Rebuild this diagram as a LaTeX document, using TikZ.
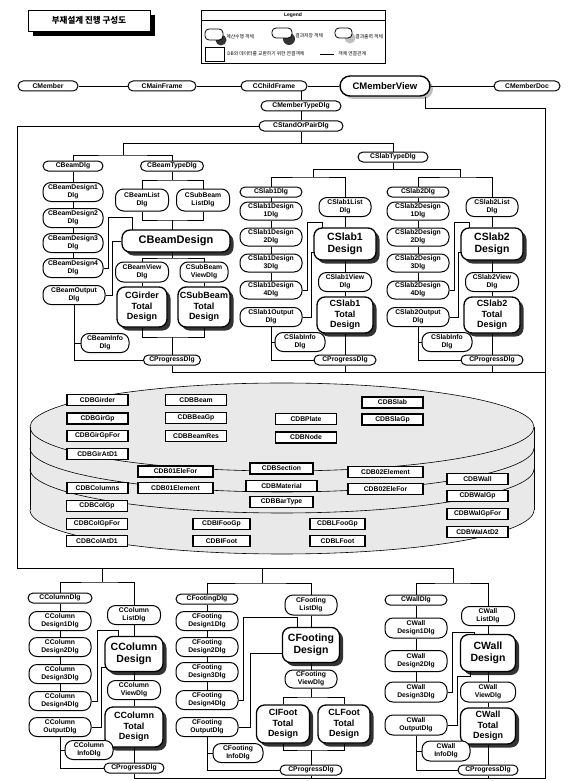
\documentclass[tikz,border=0pt]{standalone}
\usepackage{fontspec}
\setmainfont{Liberation Sans}
\newfontfamily\kr{Noto Sans CJK KR}
\usetikzlibrary{shadows}
\begin{document}
\begin{tikzpicture}[x=1pt,y=-1pt,line width=0.8pt,
 d1/.style={draw,line width=1pt,rounded corners=5pt,fill=white,inner sep=0pt,minimum height=10,font=\fontsize{6.8}{7.6}\selectfont\bfseries},
 d2/.style={draw,line width=1pt,rounded corners=8pt,fill=white,inner sep=0pt,minimum height=19,align=center,font=\fontsize{6.8}{7.7}\selectfont\bfseries},
 big/.style={draw,line width=1.3pt,rounded corners=8pt,fill=white,inner sep=0pt,align=center,font=\fontsize{10.5}{12}\selectfont\bfseries,drop shadow={shadow xshift=3.5pt,shadow yshift=-3.5pt,fill=black!80,opacity=1}},
 big3/.style={big,font=\fontsize{9}{10.5}\selectfont\bfseries},
 dbx/.style={draw,line width=1.1pt,fill=white,inner sep=0pt,minimum width=61,minimum height=11,font=\fontsize{6.8}{7.4}\selectfont\bfseries},
 kt/.style={font=\kr\fontsize{4.8}{5}\selectfont,inner sep=0pt,anchor=west},
 cyl/.style={line width=0.6pt}
]
\useasboundingbox (0,0) rectangle (577,781);

% ---------- title and legend ----------
\fill (33,15) rectangle (155,36);
\node[draw,line width=0.9pt,fill=white,minimum width=122,minimum height=21,inner sep=0pt,font=\kr\bfseries\fontsize{8.5}{9}\selectfont] (title) at (89,20.5) {부재설계 진행 구성도};

\draw[line width=0.8pt] (201,10) rectangle (385,63);
\draw (201,20) -- (385,20);
\node[font=\fontsize{5}{6}\selectfont\bfseries,inner sep=0pt] (legtitle) at (293,15) {Legend};
\fill[black!80] (221,40) circle (5.5);
\draw[line width=0.8pt,fill=white,rounded corners=4pt] (205,29) rectangle (223,40);
\node[kt] (lt1) at (226,37) {계산수행 객체};
\fill[black!80] (289,39) circle (6);
\draw[line width=0.8pt,fill=white,rounded corners=4pt] (272,28) rectangle (292,38);
\node[kt] (lt2) at (295,36) {결과저장 객체};
\fill[black!25] (350,38) circle (5.5);
\draw[line width=0.8pt,fill=white,rounded corners=4pt] (335,28) rectangle (352,38);
\node[kt] (lt3) at (355,37) {결과출력 객체};
\draw[line width=0.8pt] (205,47) rectangle (224,61);
\node[kt] (lt4) at (227,54) {DB와 데이터를 교환하기 위한 연결객체};
\draw (320,54) -- (334,54);
\node[kt] (lt5) at (338,54) {객체 연결관계};

% ---------- DB cylinder ----------
\fill[gray!17] (30,427) -- plot[domain=180:360,samples=60] ({282+252*cos(\x)},{510-44*sin(\x)}) -- plot[domain=0:180,samples=60] ({282+252*cos(\x)},{427-44*sin(\x)}) -- cycle;
\draw[cyl] (282,427) ellipse [x radius=252, y radius=44];
\foreach \cy in {448,469,510} \draw[cyl] plot[domain=180:360,samples=60] ({282+252*cos(\x)},{\cy-44*sin(\x)});
\draw[cyl] (30,427) -- (30,510) (534,427) -- (534,510);

\node[dbx] (dbgir) at (97.5,400) {CDBGirder};
\node[dbx] (dbgirgp) at (97.5,418.5) {CDBGirGp};
\node[dbx] (dbgirgpfor) at (97.5,436) {CDBGirGpFor};
\node[dbx] (dbgiratd) at (97.5,454) {CDBGirAtD1};
\node[dbx] (dbbeam) at (196,400) {CDBBeam};
\node[dbx] (dbbeagp) at (196,418) {CDBBeaGp};
\node[dbx] (dbbeamres) at (196,436) {CDBBeamRes};
\node[dbx] (dbplate) at (306,419) {CDBPlate};
\node[dbx] (dbnode) at (306,437.5) {CDBNode};
\node[dbx] (dbslab) at (392.5,402.5) {CDBSlab};
\node[dbx] (dbslagp) at (392.5,419.5) {CDBSlaGp};
\node[dbx,minimum width=75] (db01elefor) at (175.5,471.5) {CDB01EleFor};
\node[dbx,minimum width=75] (db01ele) at (175.5,488) {CDB01Element};
\node[dbx] (dbcolumns) at (97.5,488) {CDBColumns};
\node[dbx,minimum width=63] (dbsection) at (281.5,468.5) {CDBSection};
\node[dbx,minimum width=71] (dbmaterial) at (281.5,486) {CDBMaterial};
\node[dbx,minimum width=63] (dbbartype) at (281.5,502) {CDBBarType};
\node[dbx,minimum width=75] (db02ele) at (385.5,472) {CDB02Element};
\node[dbx,minimum width=75] (db02elefor) at (385.5,489) {CDB02EleFor};
\node[dbx] (dbwall) at (477.5,479) {CDBWall};
\node[dbx] (dbwalgp) at (477.5,496) {CDBWalGp};
\node[dbx] (dbwalgpfor) at (477.5,514) {CDBWalGpFor};
\node[dbx] (dbwalatd) at (477.5,532) {CDBWalAtD2};
\node[dbx] (dbcolgp) at (97,506) {CDBColGp};
\node[dbx] (dbcolgpfor) at (97,524) {CDBColGpFor};
\node[dbx] (dbcolatd) at (97,541) {CDBColAtD1};
\node[dbx,minimum width=57] (dbifoogp) at (221.5,524) {CDBIFooGp};
\node[dbx,minimum width=57] (dbifoot) at (221.5,541) {CDBIFoot};
\node[dbx,minimum width=55] (dblfoogp) at (337.5,524) {CDBLFooGp};
\node[dbx,minimum width=55] (dblfoot) at (337.5,541) {CDBLFoot};

% ---------- top row ----------
\node[d1,minimum width=60] (cmember) at (48,86) {CMember};
\node[d1,minimum width=68] (cmainframe) at (162,86) {CMainFrame};
\node[d1,minimum width=66] (cchildframe) at (274,86) {CChildFrame};
\node[draw,line width=1.4pt,rounded corners=10pt,fill=white,minimum width=90,minimum height=20,inner sep=0pt,font=\fontsize{9.5}{10}\selectfont\bfseries,drop shadow={shadow xshift=3pt,shadow yshift=-3pt,fill=black!25,opacity=1}] (cmemberview) at (385,86) {CMemberView};
\node[d1,minimum width=66] (cmemberdoc) at (527,86) {CMemberDoc};
\node[d1,minimum width=80] (cmtd) at (301,106) {CMemberTypeDlg};
\node[d1,minimum width=84] (csopd) at (301,126) {CStandOrPairDlg};
\node[d1,minimum width=70] (cslabtype) at (393,157) {CSlabTypeDlg};

% ---------- beam ----------
\node[d1,minimum width=60] (cbdlg) at (73,166) {CBeamDlg};
\node[d2,minimum width=60] (cbd1) at (73,192) {CBeamDesign1\\Dlg};
\node[d2,minimum width=60] (cbd2) at (73,218) {CBeamDesign2\\Dlg};
\node[d2,minimum width=60] (cbd3) at (73,243) {CBeamDesign3\\Dlg};
\node[d2,minimum width=60] (cbd4) at (73,268) {CBeamDesign4\\Dlg};
\node[d2,minimum width=62] (cbout) at (74,295) {CBeamOutput\\Dlg};
\node[d1,minimum width=63] (cbtype) at (172,166) {CBeamTypeDlg};
\node[d2,minimum width=53,minimum height=22] (cblist) at (142,200) {CBeamList\\Dlg};
\node[d2,minimum width=53,minimum height=22] (csblist) at (203,200) {CSubBeam\\ListDlg};
\node[big,minimum width=108,minimum height=22,font=\fontsize{11}{12}\selectfont\bfseries] (cbdes) at (176,241) {CBeamDesign};
\node[d2,minimum width=53,minimum height=20] (cbview) at (142,272) {CBeamView\\Dlg};
\node[d2,minimum width=48,minimum height=20] (csbview) at (204,272) {CSubBeam\\ViewDlg};
\node[big3,minimum width=50,minimum height=40] (cgtot) at (142,307) {CGirder\\Total\\Design};
\node[big3,minimum width=52,minimum height=40] (csbtot) at (204,307) {CSubBeam\\Total\\Design};
\node[d2,minimum width=48] (cbinfo) at (105,343) {CBeamInfo\\Dlg};
\node[d1,minimum width=57] (cbprog) at (172,360) {CProgressDlg};

% ---------- column ----------
\node[d1,minimum width=64] (ccdlg) at (60,598) {CColumnDlg};
\node[d2,minimum width=62] (ccd1) at (60,621) {CColumn\\Design1Dlg};
\node[d2,minimum width=62] (ccd2) at (60,647) {CColumn\\Design2Dlg};
\node[d2,minimum width=62] (ccd3) at (60,674) {CColumn\\Design3Dlg};
\node[d2,minimum width=62] (ccd4) at (60,701) {CColumn\\Design4Dlg};
\node[d2,minimum width=62] (ccout) at (60,727) {CColumn\\OutputDlg};
\node[d2,minimum width=53] (cclist) at (134,615) {CColumn\\ListDlg};
\node[big,minimum width=58,minimum height=35] (ccdes) at (134,654) {CColumn\\Design};
\node[d2,minimum width=53] (ccview) at (134,690) {CColumn\\ViewDlg};
\node[big3,minimum width=58,minimum height=40] (cctot) at (134,727) {CColumn\\Total\\Design};
\node[d2,minimum width=48] (ccinfo) at (89,750) {CColumn\\InfoDlg};
\node[d1,minimum width=60] (ccprog) at (134,768) {CProgressDlg};

% ---------- footing ----------
\node[d1,minimum width=62] (cfdlg) at (207,599) {CFootingDlg};
\node[d2,minimum width=62] (cfd1) at (207,621) {CFooting\\Design1Dlg};
\node[d2,minimum width=62] (cfd2) at (207,647) {CFooting\\Design2Dlg};
\node[d2,minimum width=62] (cfd3) at (207,672) {CFooting\\Design3Dlg};
\node[d2,minimum width=62] (cfd4) at (207,700) {CFooting\\Design4Dlg};
\node[d2,minimum width=62] (cfout) at (207,727) {CFooting\\OutputDlg};
\node[d2,minimum width=52,minimum height=20] (cflist) at (311,605) {CFooting\\ListDlg};
\node[big,minimum width=57,minimum height=35] (cfdes) at (311,645) {CFooting\\Design};
\node[d2,minimum width=52,minimum height=18] (cfview) at (311,679) {CFooting\\ViewDlg};
\node[big3,minimum width=53,minimum height=38] (cfi) at (283,724) {CIFoot\\Total\\Design};
\node[big3,minimum width=52,minimum height=38] (cfl) at (344,724) {CLFoot\\Total\\Design};
\node[d2,minimum width=50] (cfinfo) at (238,753) {CFooting\\InfoDlg};
\node[d1,minimum width=62] (cfprog) at (311,770) {CProgressDlg};

% ---------- wall ----------
\node[d1,minimum width=62] (cwdlg) at (416,600) {CWallDlg};
\node[d2,minimum width=62,minimum height=20] (cwd1) at (416,628) {CWall\\Design1Dlg};
\node[d2,minimum width=62,minimum height=21] (cwd2) at (416,661) {CWall\\Design2Dlg};
\node[d2,minimum width=62,minimum height=20] (cwd3) at (416,692) {CWall\\Design3Dlg};
\node[d2,minimum width=62,minimum height=20] (cwout) at (416,725) {CWall\\OutputDlg};
\node[d2,minimum width=53] (cwlist) at (488,616) {CWall\\ListDlg};
\node[big,minimum width=55,minimum height=37] (cwdes) at (488,653) {CWall\\Design};
\node[d2,minimum width=55,minimum height=20] (cwview) at (488,692) {CWall\\ViewDlg};
\node[big3,minimum width=55,minimum height=36] (cwtot) at (488,726) {CWall\\Total\\Design};
\node[d2,minimum width=48,minimum height=20] (cwinfo) at (446,751) {CWall\\InfoDlg};
\node[d1,minimum width=60] (cwprog) at (488,770) {CProgressDlg};

% ---------- top connectors ----------
\draw (cmember) -- (cmainframe) -- (cchildframe) -- (cmemberview) -- (cmemberdoc);
\draw (cmtd.north) -- (cmtd.north |- cchildframe.south);
\draw (cmtd) -- (csopd);
\draw (csopd.south) -- (301,143);
\draw (csopd.west) -- (17,126) -- (17,568) -- (453,568);
\draw ([xshift=40pt]cmemberview.south) -- (425,108) -- (545,108) -- (545,778) -| (ccprog.south);
\draw (cbdlg.north) |- (123,155) -| (cbtype.north);
\draw (123,155) -- (123,143) -- (393,143) -- (cslabtype.north);
\draw (cslabtype.south) -- (393,169);
\draw (313,169) -- (460,169);

% ---------- beam connectors ----------
\draw (cbdlg) -- (cbd1) -- (cbd2) -- (cbd3) -- (cbd4);
\draw (cbtype.south) -- (172,180);
\draw (cblist.north) |- (172,180) -| (csblist.north);
\draw (cblist.south) |- (172,220) -| (csblist.south);
\draw (172,220) -- (172,230);
\draw (172,252) -- (172,258);
\draw (cbview.north) |- (172,258) -| (csbview.north);
\draw (cbview) -- (cgtot);
\draw (csbview) -- (csbtot);
\draw (cgtot.south) |- (172,337) -| (csbtot.south);
\draw (172,337) -- (cbprog.north);
\draw (cbd4.east) -- (108,268) -- (108,217) -- (132,217) -- (132,230);
\draw (cbout.east) -| (112,241) -- (cbdes.west);
\draw (cbout.south) |- (cbprog.west);
\draw (cbout.south |- cbinfo.west) -- (cbinfo.west);
\draw (cbprog.south) -- (172,372) -- (545,372);

% ---------- slabs ----------
\foreach \i/\dx in {1/0,2/147}{
 \node[d1,minimum width=62] (s\i dlg) at (271+\dx,192) {CSlab\i Dlg};
 \node[d2,minimum width=62,minimum height=18] (s\i da) at (271+\dx,211) {CSlab\i Design\\1Dlg};
 \node[d2,minimum width=62,minimum height=18] (s\i db) at (271+\dx,237) {CSlab\i Design\\2Dlg};
 \node[d2,minimum width=62,minimum height=18] (s\i dc) at (271+\dx,263) {CSlab\i Design\\3Dlg};
 \node[d2,minimum width=62,minimum height=18] (s\i dd) at (271+\dx,290) {CSlab\i Design\\4Dlg};
 \node[d2,minimum width=62,minimum height=19] (s\i out) at (271+\dx,317) {CSlab\i Output\\Dlg};
 \node[d2,minimum width=52] (s\i list) at (345+\dx,207) {CSlab\i List\\Dlg};
 \node[big,minimum width=62,minimum height=32] (s\i des) at (345+\dx,244) {CSlab\i\\Design};
 \node[d2,minimum width=53] (s\i view) at (345+\dx,282) {CSlab\i View\\Dlg};
 \node[big3,minimum width=56,minimum height=36] (s\i tot) at (345+\dx,315) {CSlab\i\\Total\\Design};
 \node[d2,minimum width=50] (s\i info) at (300+\dx,342) {CSlabInfo\\Dlg};
 \node[d1,minimum width=62] (s\i prog) at (345+\dx,360) {CProgressDlg};
 \draw (313+\dx,169) -- (313+\dx,177);
 \draw (s\i dlg.north) |- (313+\dx,177) -| (s\i list.north);
 \draw (s\i dlg) -- (s\i da) -- (s\i db) -- (s\i dc) -- (s\i dd);
 \draw (s\i list) -- (s\i des) -- (s\i view) -- (s\i tot) -- (s\i prog);
 \draw (s\i dd.east) -- (307+\dx,290) -- (307+\dx,222) -- (322+\dx,222) -- (322+\dx,228);
 \draw (s\i out.east) -| (311+\dx,252) -- (315+\dx,252);
 \draw (s\i out.south) |- (s\i prog.west);
 \draw (s\i out.south |- s\i info.west) -- (s\i info.west);
 \draw (s\i prog.south) -- (345+\dx,372);
}

% ---------- column connectors ----------
\draw (102,568) -- (102,582);
\draw (ccdlg.north) |- (102,582) -| (cclist.north);
\draw (ccdlg) -- (ccd1) -- (ccd2) -- (ccd3) -- (ccd4);
\draw (cclist) -- (ccdes) -- (ccview) -- (cctot) -- (ccprog);
\draw (ccd4.east) -- (97,701) -- (97,630) -- (118,630) -- (118,636.5);
\draw (ccout.east) -| (101,667) -- (106,667);
\draw (ccout.south) |- (ccprog.west);
\draw (ccout.south |- ccinfo.west) -- (ccinfo.west);

% ---------- footing connectors ----------
\draw (262,568) -- (262,583);
\draw (cfdlg.north) |- (262,583) -| (cflist.north);
\draw (cfdlg) -- (cfd1) -- (cfd2) -- (cfd3) -- (cfd4);
\draw (cflist) -- (cfdes) -- (cfview);
\draw (cfview.south) -- (311,697);
\draw (cfi.north) |- (311,697) -| (cfl.north);
\draw (cfi.south) |- (311,750) -| (cfl.south);
\draw (311,750) -- (cfprog.north);
\draw (cfd4.east) -- (243,700) -- (243,617) -- (297,617) -- (297,627.5);
\draw (cfout.east) -| (250,653) -- (282.5,653);
\draw (cfout.south) |- (cfprog.west);
\draw (cfout.south |- cfinfo.west) -- (cfinfo.west);
\draw (cfprog.south) -- (311,778);

% ---------- wall connectors ----------
\draw (453,568) -- (453,583);
\draw (cwdlg.north) |- (453,583) -| (cwlist.north);
\draw (cwdlg) -- (cwd1) -- (cwd2) -- (cwd3);
\draw (cwlist) -- (cwdes) -- (cwview) -- (cwtot) -- (cwprog);
\draw (cwd3.east) -- (452,692) -- (452,632) -- (474,632) -- (474,634.5);
\draw (cwout.east) -| (457,676) -- (470,676) -- (470,671.5);
\draw (cwout.south) |- (cwprog.west);
\draw (cwout.south |- cwinfo.west) -- (cwinfo.west);
\draw (cwprog.south) -- (488,778);
\end{tikzpicture}
\end{document}
